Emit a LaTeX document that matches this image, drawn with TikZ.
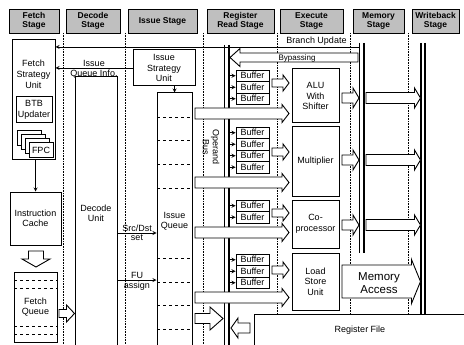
\documentclass[tikz,border=0pt]{standalone}
\usepackage{fontspec}
\setmainfont{Liberation Sans}
\usetikzlibrary{arrows, positioning, calc}
\tikzset{
  stg/.style={draw, fill=gray!50, line width=0.8pt, inner sep=0pt, minimum height=24pt, align=center, font=\bfseries\fontsize{8.5}{9.5}\selectfont},
  unit/.style={draw, fill=white, line width=1pt, inner sep=0pt, align=center, font=\fontsize{9}{10.5}\selectfont},
  utxt/.style={inner sep=0pt, align=center, font=\fontsize{9}{11}\selectfont},
  buf/.style={draw, fill=white, line width=0.9pt, inner sep=0pt, minimum width=33pt, minimum height=11.5pt, font=\fontsize{9}{9}\selectfont},
  tra/.style={->, >=stealth, line width=0.8pt},
  tlab/.style={font=\fontsize{9}{10}\selectfont, inner sep=1.5pt},
  sep/.style={densely dotted, line width=0.6pt},
  qln/.style={dashed, line width=0.6pt},
  bus/.style={line width=1.8pt},
  hol/.style={draw, fill=white, line width=0.9pt, line join=miter}
}
\newcommand{\harr}[5]{\draw[hol] ($(#1)+(0,-#3)$) -- ($(#2)+(-#5,-#3)$) -- ($(#2)+(-#5,-#4)$) -- (#2) -- ($(#2)+(-#5,#4)$) -- ($(#2)+(-#5,#3)$) -- ($(#1)+(0,#3)$) -- cycle;}
\newcommand{\harl}[5]{\draw[hol] ($(#1)+(0,-#3)$) -- ($(#2)+(#5,-#3)$) -- ($(#2)+(#5,-#4)$) -- (#2) -- ($(#2)+(#5,#4)$) -- ($(#2)+(#5,#3)$) -- ($(#1)+(0,#3)$) -- cycle;}
\newcommand{\hard}[5]{\draw[hol] ($(#1)+(-#3,0)$) -- ($(#2)+(-#3,-#5)$) -- ($(#2)+(-#4,-#5)$) -- (#2) -- ($(#2)+(#4,-#5)$) -- ($(#2)+(#3,-#5)$) -- ($(#1)+(#3,0)$) -- cycle;}

\begin{document}
\begin{tikzpicture}[x=1pt, y=-1pt]
		\useasboundingbox (0,0) rectangle (464,345);
		\clip (0,0) rectangle (464,345);
		\node[stg, minimum width=50pt] (fhd) at (34,21) {Fetch\\Stage};
		\node[stg, minimum width=54pt] (dhd) at (93,21) {Decode\\Stage};
		\node[stg, minimum width=69pt] (ihd) at (162.5,21) {Issue Stage};
		\node[stg, minimum width=67pt] (rhd) at (240.5,21) {Register\\Read Stage};
		\node[stg, minimum width=63pt] (ehd) at (311.5,21) {Execute\\Stage};
		\node[stg, minimum width=51pt] (mhd) at (378.5,21) {Memory\\Stage};
		\node[stg, minimum width=47pt] (whd) at (435.5,21) {Writeback\\Stage};
		\foreach \x in {63,125,203,277,350,408}
			\draw[sep] (\x,33) -- (\x,345);
		\draw[bus] (224.5,45) -- (224.5,345);
		\draw[bus] (229,45) -- (229,345);
		\draw[bus] (359.5,43) -- (359.5,253);
		\draw[bus] (364,43) -- (364,253);
		\draw[bus] (421,43) -- (421,314);
		\draw[bus] (425,43) -- (425,314);
		\node[unit, minimum width=43pt, minimum height=120pt] (fsu) at (33.5,100) {};
		\node[utxt] (fsut) at (33.5,74) {Fetch\\Strategy\\Unit};
		\node[unit, minimum width=36pt, minimum height=26pt] (btb) at (34,110) {BTB\\Updater};
		\foreach \i in {0,1,2}
			\node[unit, minimum width=24pt, minimum height=15pt] (fpc\i) at (29+4*\i,138.5+4*\i) {};
		\node[unit, minimum width=24pt, minimum height=15pt] (fpc) at (41,150.5) {FPC};
		\node[unit, minimum width=51pt, minimum height=53pt] (ic) at (35.5,218.5) {Instruction\\Cache};
		\draw[tra] (fsu.south -| ic.north) -- (ic.north);
		\coordinate (ica) at (36,251);
		\coordinate (icb) at (36,267);
		\hard{ica}{icb}{7.5}{14}{8}
		\node[unit, minimum width=43pt, minimum height=70pt] (fq) at (35.5,307) {Fetch\\Queue};
		\foreach \y in {280,288,326,334}
			\draw[qln] (14,\y) -- (57,\y);
		\node[unit, minimum width=42pt, minimum height=273pt] (dec) at (96,213.5) {Decode\\Unit};
		\coordinate (fqa) at (59,313.5);
		\coordinate (fqb) at (dec.west |- fqa);
		\harr{fqa}{fqb}{4}{8.5}{8}
		\node[unit, minimum width=62pt, minimum height=36pt] (isu) at (164,68) {Issue\\Strategy\\Unit};
		\node[unit, minimum width=35pt, minimum height=257pt] (iq) at (174.5,221.5) {Issue\\Queue};
		\foreach \y in {117,140,164,188,258,282,305,329}
			\draw[qln] (157,\y) -- (192,\y);
		\draw[tra] (isu.south -| iq.north) -- (iq.north);
		\draw[tra] (isu.west) -- (isu.west -| fsu.east) node[tlab, midway, above] {Issue} node[tlab, midway, below] {Queue Info.};
		\draw[tra] (dec.east |- 0,233) -- (iq.west |- 0,233) node[tlab, midway, above] {Src/Dst} node[tlab, midway, below] {set};
		\draw[tra] (dec.east |- 0,280) -- (iq.west |- 0,280) node[tlab, midway, above] {FU} node[tlab, midway, below] {assign};
		\coordinate (bu) at (359,47);
		\draw[tra] (bu) -- (bu -| fsu.east) node[tlab, pos=0.14, above] {Branch Update};
		\coordinate (bpa) at (358,57.5);
		\coordinate (bpb) at (230,57.5);
		\harl{bpa}{bpb}{4.5}{9}{10}
		\node[tlab, font=\fontsize{8}{9}\selectfont] (bpt) at (297,58) {Bypassing};
		\node[tlab, rotate=-90, align=center] (opb) at (211,147) {Operand\\Bus};
		\foreach \i in {0,1,2}
			\node[buf] (ba\i) at (252.5,75.75+11.5*\i) {Buffer};
		\foreach \i in {0,...,3}
			\node[buf] (bm\i) at (252.5,132.75+11.5*\i) {Buffer};
		\foreach \i in {0,1}
			\node[buf] (bc\i) at (252.5,205.75+11.5*\i) {Buffer};
		\foreach \i in {0,1,2}
			\node[buf] (bl\i) at (252.5,259.75+11.5*\i) {Buffer};
		\foreach \n in {ba0,ba1,ba2,bm0,bm1,bm2,bm3,bc0,bc1,bl0,bl1,bl2}
			\draw[tra] ([xshift=-7pt]\n.west) -- (\n.west);
		\node[unit, minimum width=47pt, minimum height=54pt] (alu) at (315.5,96) {ALU\\With\\Shifter};
		\node[unit, minimum width=47pt, minimum height=69pt] (mul) at (315.5,161.5) {Multiplier};
		\node[unit, minimum width=47pt, minimum height=48pt] (cop) at (315.5,224) {Co-\\processor};
		\node[unit, minimum width=47pt, minimum height=57pt] (lsu) at (315.5,281.5) {Load\\Store\\Unit};
		\foreach \u/\y in {alu/83,mul/152,cop/213,lsu/270}{
			\coordinate (s\u) at (272,\y);
			\coordinate (t\u) at (289,\y);
			\harr{s\u}{t\u}{4}{8}{6}
		}
		\foreach \u/\y in {alu/113.5,mul/182.5,cop/232.5,lsu/297.5}{
			\coordinate (o\u) at (195,\y);
			\coordinate (p\u) at (289,\y);
			\harr{o\u}{p\u}{5.5}{9}{7}
		}
		\foreach \u/\y in {alu/98,mul/160,cop/225}{
			\coordinate (e\u) at (342,\y);
			\coordinate (m\u) at (359,\y);
			\coordinate (n\u) at (366,\y);
			\coordinate (w\u) at (420.5,\y);
			\harr{e\u}{m\u}{5}{10}{6}
			\harr{n\u}{w\u}{5.5}{10}{6}
		}
		\coordinate (maa) at (342,281.5);
		\coordinate (mab) at (420.5,281.5);
		\harr{maa}{mab}{16.5}{22}{9}
		\node[utxt, font=\fontsize{11.5}{13}\selectfont] (mat) at (379,283) {Memory\\Access};
		\node[unit, minimum width=212pt, minimum height=32pt] (rf) at (360,330) {Register File};
		\coordinate (rfa) at (250,328);
		\coordinate (rfb) at (231,328);
		\harl{rfa}{rfb}{5}{10}{7}
		\coordinate (iqa) at (195,318.5);
		\coordinate (iqb) at (223,318.5);
		\harr{iqa}{iqb}{5}{11.5}{13}
	\end{tikzpicture}
\end{document}
